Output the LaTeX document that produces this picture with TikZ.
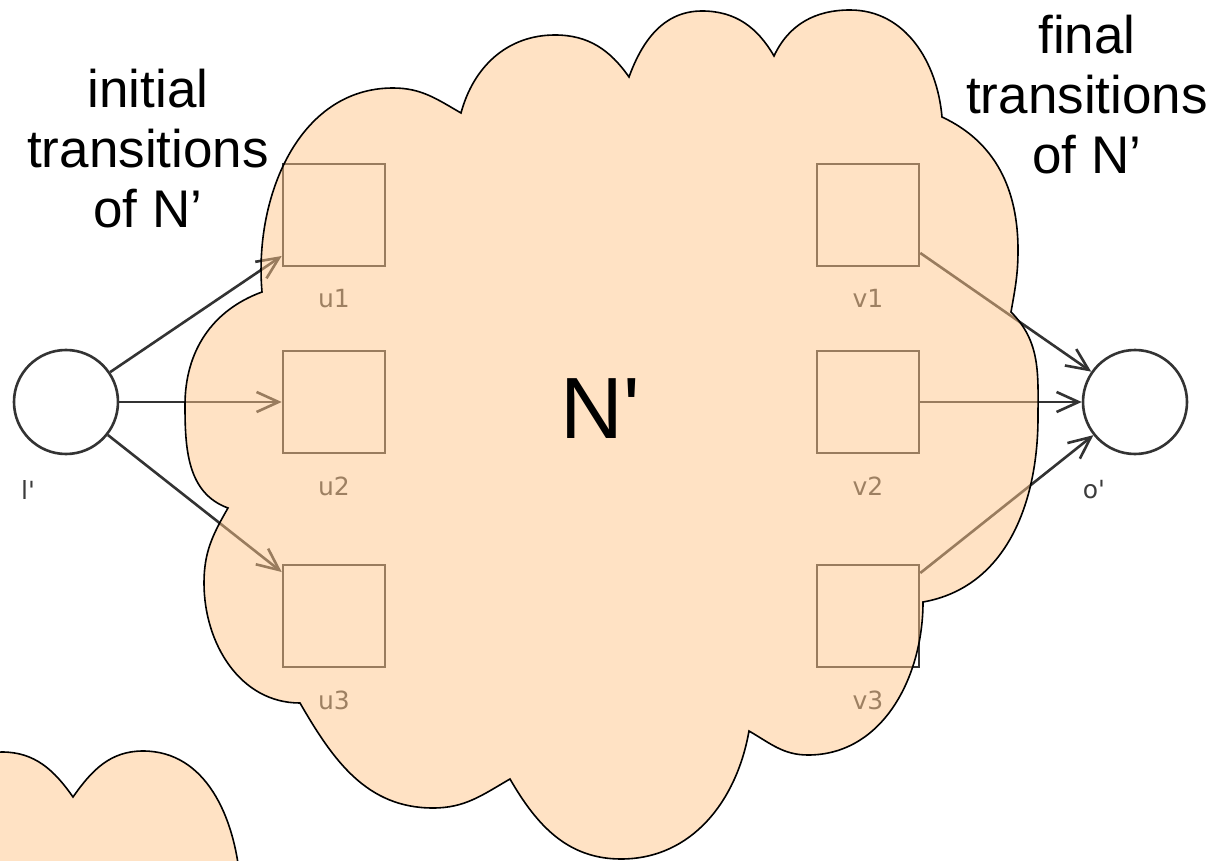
\documentclass[tikz,border=0pt]{standalone}
\usepackage{fontspec}
\setmainfont{Liberation Sans}
\newfontfamily\netfont{DejaVu Sans}
\usetikzlibrary{arrows.meta,positioning}
\definecolor{netgray}{RGB}{51,51,51}
\definecolor{labgray}{RGB}{60,60,60}
\definecolor{cloudfill}{RGB}{255,197,137}

\tikzset{
  place/.style={circle,draw=netgray,line width=1.3pt,minimum size=52pt,inner sep=0pt},
  transition/.style={rectangle,draw=netgray,line width=1.3pt,minimum size=51pt,inner sep=0pt},
  netlabel/.style={font=\netfont\fontsize{12.5}{14}\selectfont,text=labgray,inner sep=0pt},
  arc/.style={draw=netgray,line width=1.3pt,-{Straight Barb[length=11pt,width=10pt]}},
  cloud/.style={fill=cloudfill,fill opacity=0.5,draw=black,line width=0.8pt},
  bigtext/.style={font=\fontsize{26.5}{30}\selectfont,align=center,inner sep=0pt}
}

\begin{document}
\begin{tikzpicture}[x=0.5pt,y=0.5pt]
    \useasboundingbox (0,0) rectangle (1231,-861);

    % Places
    \node[place] (l) at (66,-402) {};
    \node[place] (o) at (1135,-402) {};
    \node[netlabel] (lname) at (28,-490) {l\textquotesingle};
    \node[netlabel] (oname) at (1094,-490) {o\textquotesingle};

    % Transitions
    \node[transition] (u1) at (334,-215) {};
    \node[transition] (u2) at (334,-402) {};
    \node[transition] (u3) at (334,-616) {};
    \node[transition] (v1) at (868,-215) {};
    \node[transition] (v2) at (868,-402) {};
    \node[transition] (v3) at (868,-616) {};
    \node[netlabel,below=11pt of u1] (u1name) {u1};
    \node[netlabel,below=11pt of u2] (u2name) {u2};
    \node[netlabel,below=11pt of u3] (u3name) {u3};
    \node[netlabel,below=11pt of v1] (v1name) {v1};
    \node[netlabel,below=11pt of v2] (v2name) {v2};
    \node[netlabel,below=11pt of v3] (v3name) {v3};

    % Arcs
    \draw[arc] (l) -- ([yshift=-20.5pt]u1.west);
    \draw[arc] (l) -- (u2);
    \draw[arc] (l) -- ([yshift=22pt]u3.west);
    \draw[arc] ([yshift=-19pt]v1.east) -- (o);
    \draw[arc] (v2) -- (o);
    \draw[arc] ([yshift=21.5pt]v3.east) -- (o);

    % Cloud N'
    \draw[cloud] (262,-292) to[out=95,in=180] (393,-88) to[out=0,in=150] (461,-113)
        to[out=75,in=180] (555,-35) to[out=0,in=125] (629,-77)
        to[out=70,in=180] (702,-11) to[out=0,in=120] (774,-56)
        to[out=65,in=180] (850,-10) to[out=0,in=95] (942,-117)
        to[out=-25,in=90] (1018,-250) to[out=-90,in=80] (1011,-312)
        to[out=-45,in=90] (1038,-417) to[out=-90,in=10] (923,-602)
        to[out=-90,in=0] (808,-755) to[out=180,in=-30] (749,-731)
        to[out=-100,in=0] (621,-859) to[out=180,in=-60] (510,-779)
        to[out=-150,in=0] (433,-808) to[out=180,in=-60] (300,-703)
        to[out=180,in=-90] (204,-583) to[out=90,in=-120] (228,-508)
        to[out=160,in=-90] (185,-405) to[out=90,in=-160] cycle;

    % Second cloud, cut by the border
    \begin{scope}
        \clip (0,0) rectangle (1231,-861);
        \draw[cloud] (-70,-880) to[out=85,in=180] (2,-752) to[out=0,in=125] (73,-797)
            to[out=55,in=180] (143,-751) to[out=0,in=95] (240,-880);
    \end{scope}

    % Texts
    \node[font=\fontsize{43.5}{50}\selectfont,inner sep=0pt] (cloudname) at (600,-409) {N\textquotesingle};
    \node[bigtext] (initlab) at (148,-149) {initial\\transitions\\of N'};
    \node[bigtext] (finallab) at (1087,-95) {final\\transitions\\of N'};
\end{tikzpicture}
\end{document}
